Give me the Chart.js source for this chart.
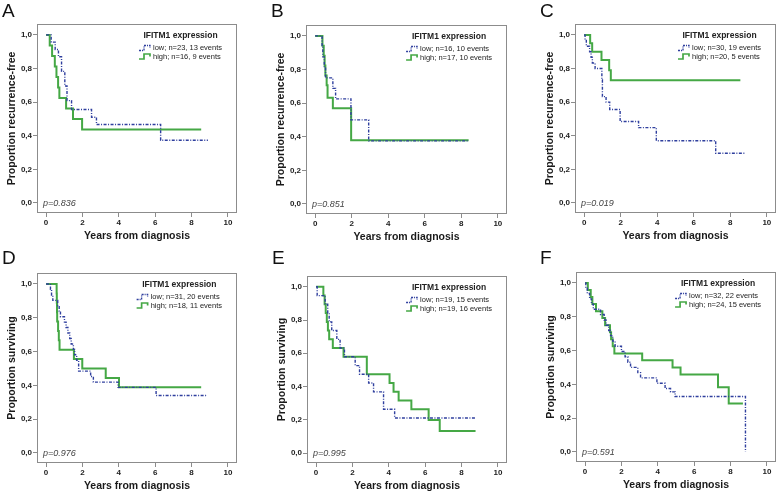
<!doctype html>
<html lang="en">
<head>
  <meta charset="UTF-8">
  <title>IFITM1 expression - Kaplan-Meier</title>
  <script src="https://cdn.jsdelivr.net/npm/chart.js@4.4.0/dist/chart.umd.min.js"></script>
  <style>
      body {
          margin: 0;
          background: #fff;
      }
      #wrap {
          position: relative;
          width: 778px;
          height: 491px;
          overflow: hidden;
          font-family: 'Liberation Sans', Arial, sans-serif;
      }
      #wrap canvas {
          position: absolute;
      }
      .letter {
          position: absolute;
          font-size: 19px;
          line-height: 1;
          color: #111;
      }
  </style>
</head>
<body>

<div id="wrap"></div>

<script>
  // axes
  const xTicks = [0, 2, 4, 6, 8, 10]
  const yTicks = [0, 0.2, 0.4, 0.6, 0.8, 1.0]
  const yTickLabels = ['0,0', '0,2', '0,4', '0,6', '0,8', '1,0']

  // panel texts
  const panelLetters = ['A', 'B', 'C', 'D', 'E', 'F']
  const yTitles = ['Proportion recurrence-free', 'Proportion recurrence-free', 'Proportion recurrence-free',
    'Proportion surviving', 'Proportion surviving', 'Proportion surviving']
  const lowLabels = ['low; n=23, 13 events', 'low; n=16, 10 events', 'low; n=30, 19 events',
    'low; n=31, 20 events', 'low; n=19, 15 events', 'low; n=32, 22 events']
  const highLabels = ['high; n=16, 9 events', 'high; n=17, 10 events', 'high; n=20, 5 events',
    'high; n=18, 11 events', 'high; n=19, 16 events', 'high; n=24, 15 events']
  const pValues = ['p=0.836', 'p=0.851', 'p=0.019', 'p=0.976', 'p=0.995', 'p=0.591']

  // A
  const aLowT = [0, 0.28, 0.5, 0.68, 0.85, 1.03, 1.15, 1.4, 2.5, 2.77, 6.3, 8.9]
  const aLowS = [1, 0.957, 0.913, 0.87, 0.783, 0.696, 0.609, 0.556, 0.51, 0.467, 0.373, 0.373]
  const aHighT = [0, 0.2, 0.33, 0.48, 0.57, 0.66, 0.73, 1.1, 1.48, 1.98, 8.53]
  const aHighS = [1, 0.9375, 0.875, 0.8125, 0.75, 0.6875, 0.625, 0.5625, 0.5, 0.4375, 0.4375]
  // B
  const bLowT = [0, 0.38, 0.42, 0.5, 0.57, 0.97, 1.12, 1.96, 2.93, 8.4]
  const bLowS = [1, 0.9375, 0.875, 0.8125, 0.75, 0.6875, 0.625, 0.5, 0.375, 0.375]
  const bHighT = [0, 0.4, 0.47, 0.52, 0.56, 0.63, 0.68, 0.97, 1.97, 8.4]
  const bHighS = [1, 0.941, 0.882, 0.824, 0.765, 0.706, 0.632, 0.569, 0.379, 0.379]
  // C
  const cLowT = [0, 0.05, 0.12, 0.3, 0.38, 0.45, 0.6, 0.97, 1.0, 1.2, 1.4, 1.97, 2.98, 3.95, 7.2, 8.85]
  const cLowS = [1, 0.967, 0.933, 0.9, 0.867, 0.833, 0.8, 0.733, 0.633, 0.6, 0.556, 0.485, 0.448, 0.37, 0.296, 0.296]
  const cHighT = [0, 0.33, 0.44, 0.95, 1.37, 1.46, 8.55]
  const cHighS = [1, 0.95, 0.9, 0.85, 0.79, 0.73, 0.73]
  // D
  const dLowT = [0, 0.24, 0.3, 0.37, 0.64, 0.72, 0.79, 1.01, 1.1, 1.2, 1.3, 1.38, 1.5, 1.57, 1.68, 1.79, 2.45, 2.6, 3.96, 6.05, 8.85]
  const dLowS = [1, 0.968, 0.935, 0.903, 0.871, 0.839, 0.806, 0.774, 0.742, 0.71, 0.677, 0.645, 0.613, 0.581, 0.548, 0.484, 0.452, 0.419, 0.388, 0.34, 0.34]
  const dHighT = [0, 0.58, 0.59, 0.6, 0.61, 0.66, 0.7, 0.74, 1.53, 1.99, 3.28, 4.01, 8.53]
  const dHighS = [1, 0.944, 0.889, 0.833, 0.778, 0.722, 0.667, 0.611, 0.556, 0.5, 0.444, 0.389, 0.389]
  // E
  const eLowT = [0, 0.06, 0.5, 0.64, 0.72, 0.86, 1.14, 1.32, 1.56, 2.15, 2.39, 2.89, 3.16, 3.71, 4.32, 8.8]
  const eLowS = [1, 0.947, 0.895, 0.842, 0.789, 0.737, 0.684, 0.632, 0.579, 0.526, 0.474, 0.421, 0.368, 0.263, 0.211, 0.211]
  const eHighT = [0, 0.4, 0.47, 0.53, 0.59, 0.65, 0.72, 0.92, 1.51, 2.79, 4.04, 4.26, 4.54, 5.24, 6.19, 6.8, 8.77]
  const eHighS = [1, 0.947, 0.895, 0.842, 0.789, 0.737, 0.684, 0.632, 0.579, 0.474, 0.421, 0.368, 0.316, 0.263, 0.198, 0.132, 0.132]
  // F
  const fLowT = [0, 0.04, 0.12, 0.25, 0.35, 0.45, 0.85, 1.05, 1.15, 1.3, 1.4, 1.52, 1.65, 2.0, 2.2, 2.35, 2.5, 2.9, 3.05, 3.95, 4.4, 4.7, 4.95, 8.82]
  const fLowS = [1, 0.969, 0.938, 0.906, 0.875, 0.844, 0.813, 0.781, 0.75, 0.719, 0.688, 0.656, 0.625, 0.594, 0.563, 0.531, 0.5, 0.469, 0.438, 0.406, 0.375, 0.355, 0.328, 0]
  const fHighT = [0, 0.15, 0.31, 0.4, 0.6, 0.95, 1.1, 1.37, 1.43, 1.52, 1.61, 3.14, 4.81, 5.25, 7.31, 7.9, 8.68]
  const fHighS = [1, 0.958, 0.917, 0.875, 0.833, 0.792, 0.75, 0.708, 0.667, 0.625, 0.583, 0.542, 0.5, 0.458, 0.383, 0.287, 0.287]

  const series = [
    [aLowT, aLowS, aHighT, aHighS],
    [bLowT, bLowS, bHighT, bHighS],
    [cLowT, cLowS, cHighT, cHighS],
    [dLowT, dLowS, dHighT, dHighS],
    [eLowT, eLowS, eHighT, eHighS],
    [fLowT, fLowS, fHighT, fHighS]
  ]

  // layout: plot frame [left, top, right, bottom] and letter position, page pixels
  const frames = [
    [37, 24, 237, 213], [306, 25, 507, 214], [575, 24, 776, 213],
    [37, 273, 237, 463], [307, 276, 507, 463], [576, 272, 776, 462]
  ]
  const letterPos = [[2, 1], [271, 1], [540, 1], [2, 248], [272, 248], [540, 248]]

  const BLUE = '#2f3f9e'
  const GREEN = '#45a845'
  const FONT = "'Liberation Sans', Arial, sans-serif"
  const PAD_L = 37, PAD_T = 24, PAD_R = 2, PAD_B = 34

  const points = (t, s) => t.map((v, i) => ({ x: v, y: s[i] }))

  // frame, inside legend and p value
  const kmDecor = {
    id: 'kmDecor',
    afterDraw(chart, args, opts) {
      const { ctx, chartArea: a } = chart
      ctx.save()
      ctx.strokeStyle = '#8c8c8c'
      ctx.lineWidth = 1
      ctx.strokeRect(a.left + 0.5, a.top + 0.5, a.right - a.left - 1, a.bottom - a.top - 1)

      ctx.font = '7.5px ' + FONT
      const textW = Math.max(ctx.measureText(opts.low).width, ctx.measureText(opts.high).width)
      const blockRight = a.right - 15
      const textX = blockRight - textW
      const sampleX = textX - 14
      const y1 = a.top + 24, y2 = a.top + 32.5

      ctx.fillStyle = '#222'
      ctx.textBaseline = 'middle'
      ctx.textAlign = 'left'
      ctx.fillText(opts.low, textX, y1)
      ctx.fillText(opts.high, textX, y2)

      ctx.font = 'bold 8.5px ' + FONT
      ctx.textAlign = 'center'
      ctx.fillText('IFITM1 expression', (sampleX + blockRight) / 2, a.top + 12)

      // little step samples
      ctx.lineWidth = 1.3
      ctx.strokeStyle = BLUE
      ctx.setLineDash([2, 1, 1, 1])
      ctx.beginPath()
      ctx.moveTo(sampleX, y1 + 2.5)
      ctx.lineTo(sampleX + 5, y1 + 2.5)
      ctx.lineTo(sampleX + 5, y1 - 2.5)
      ctx.lineTo(sampleX + 11, y1 - 2.5)
      ctx.lineTo(sampleX + 11, y1)
      ctx.stroke()
      ctx.setLineDash([])
      ctx.lineWidth = 1.7
      ctx.strokeStyle = GREEN
      ctx.beginPath()
      ctx.moveTo(sampleX, y2 + 2.5)
      ctx.lineTo(sampleX + 5, y2 + 2.5)
      ctx.lineTo(sampleX + 5, y2 - 2.5)
      ctx.lineTo(sampleX + 11, y2 - 2.5)
      ctx.lineTo(sampleX + 11, y2)
      ctx.stroke()

      ctx.font = 'italic 9px ' + FONT
      ctx.fillStyle = '#444'
      ctx.textAlign = 'left'
      ctx.fillText(opts.p, a.left + 6, a.bottom - 10)
      ctx.restore()
    }
  }

  const wrap = document.getElementById('wrap')

  frames.forEach((fr, i) => {
    const [L, T, R, B] = fr
    const canvas = document.createElement('canvas')
    canvas.width = R - L + PAD_L + PAD_R
    canvas.height = B - T + PAD_T + PAD_B
    canvas.style.left = (L - PAD_L) + 'px'
    canvas.style.top = (T - PAD_T) + 'px'
    wrap.appendChild(canvas)

    const letter = document.createElement('div')
    letter.className = 'letter'
    letter.textContent = panelLetters[i]
    letter.style.left = letterPos[i][0] + 'px'
    letter.style.top = letterPos[i][1] + 'px'
    wrap.appendChild(letter)

    const [lowT, lowS, highT, highS] = series[i]

    new Chart(canvas, {
      type: 'line',
      data: {
        datasets: [
          {
            label: lowLabels[i],
            data: points(lowT, lowS),
            borderColor: BLUE,
            borderWidth: 1.4,
            borderDash: [3, 1.5, 1, 1.5],
            stepped: true,
            pointRadius: 0,
            fill: false
          },
          {
            label: highLabels[i],
            data: points(highT, highS),
            borderColor: GREEN,
            borderWidth: 2,
            stepped: true,
            pointRadius: 0,
            fill: false
          }
        ]
      },
      options: {
        responsive: false,
        animation: false,
        layout: { padding: { top: PAD_T, right: PAD_R, left: 0, bottom: 0 } },
        plugins: {
          legend: { display: false },
          tooltip: { enabled: false },
          kmDecor: { low: lowLabels[i], high: highLabels[i], p: pValues[i] }
        },
        scales: {
          x: {
            type: 'linear',
            min: -0.5,
            max: 10.5,
            afterBuildTicks: (axis) => { axis.ticks = xTicks.map(v => ({ value: v })) },
            afterFit: (scale) => { scale.height = PAD_B },
            grid: { drawOnChartArea: false, color: '#8c8c8c', tickLength: 4 },
            border: { display: false },
            ticks: { color: '#222', padding: 1, maxRotation: 0, font: { family: FONT, size: 8, weight: 'bold' } },
            title: {
              display: true,
              text: 'Years from diagnosis',
              color: '#1a1a1a',
              padding: { top: 0, bottom: 5 },
              font: { family: FONT, size: 10.5, weight: 'bold' }
            }
          },
          y: {
            type: 'linear',
            min: -0.06,
            max: 1.065,
            afterBuildTicks: (axis) => { axis.ticks = yTicks.map(v => ({ value: v })) },
            afterFit: (scale) => { scale.width = PAD_L },
            grid: { drawOnChartArea: false, color: '#8c8c8c', tickLength: 4 },
            border: { display: false },
            ticks: {
              color: '#222',
              padding: 1,
              font: { family: FONT, size: 8, weight: 'bold' },
              callback: (v) => yTickLabels[yTicks.indexOf(v)]
            },
            title: {
              display: true,
              text: yTitles[i],
              color: '#1a1a1a',
              padding: { top: 6, bottom: 0 },
              font: { family: FONT, size: 10.5, weight: 'bold' }
            }
          }
        }
      },
      plugins: [kmDecor]
    })
  })
</script>

</body>
</html>
